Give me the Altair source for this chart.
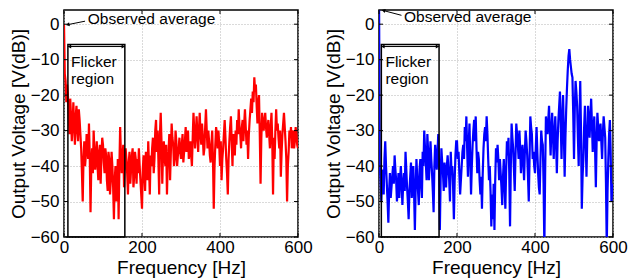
import altair as alt
import pandas as pd

# ---- data (2 Hz spacing) ----
freq_hz = list(range(0, 601, 2))

red_db = [
    0, -14, -16, -22, -17, -20, -25, -31, -21, -26,
    -33, -28, -22, -29, -34, -26, -23, -30, -33, -24,
    -27, -31, -35, -42, -50, -38, -33, -40, -37, -31,
    -34, -38, -28, -37, -53, -40, -35, -42, -30, -36,
    -41, -37, -33, -40, -44, -36, -34, -45, -37, -32,
    -34, -39, -42, -35, -37, -44, -47, -36, -38, -48,
    -44, -36, -40, -46, -55, -44, -40, -50, -47, -38,
    -55, -40, -29, -37, -42, -37, -34, -46, -40, -35,
    -38, -42, -48, -39, -36, -45, -41, -37, -35, -46,
    -43, -36, -38, -45, -38, -42, -35, -40, -44, -48,
    -52, -41, -37, -42, -47, -36, -39, -44, -33, -40,
    -48, -37, -40, -35, -32, -42, -38, -30, -27, -36,
    -30, -38, -48, -31, -25, -33, -45, -36, -33, -38,
    -40, -34, -48, -39, -36, -31, -44, -36, -28, -32,
    -34, -40, -38, -30, -33, -40, -37, -35, -32, -36,
    -38, -34, -31, -39, -36, -33, -29, -36, -33, -30,
    -38, -36, -33, -37, -40, -32, -25, -30, -35, -31,
    -26, -31, -36, -30, -25, -31, -34, -28, -32, -37,
    -35, -29, -24, -30, -35, -30, -33, -37, -39, -34,
    -30, -38, -52, -40, -34, -29, -31, -35, -30, -34,
    -40, -33, -44, -38, -35, -31, -27, -32, -38, -42,
    -48, -38, -33, -29, -26, -33, -40, -31, -34, -37,
    -30, -34, -27, -31, -24, -29, -31, -35, -29, -27,
    -33, -28, -24, -29, -34, -30, -38, -31, -27, -24,
    -21, -25, -19, -22, -15, -19, -17, -23, -28, -22,
    -20, -31, -45, -32, -25, -28, -30, -27, -25, -29,
    -32, -29, -27, -31, -35, -29, -25, -33, -48, -32,
    -38, -30, -24, -30, -28, -32, -35, -30, -43, -36,
    -31, -28, -25, -29, -33, -38, -50, -40, -36, -30,
    -32, -29, -35, -31, -30, -35, -33, -29, -31, -34,
    -35,
]

blue_db = [
    10, -40, -44, -50, -41, -46, -48, -38, -33, -40,
    -45, -50, -56, -47, -42, -49, -46, -43, -40, -45,
    -37, -41, -44, -50, -46, -42, -49, -44, -40, -45,
    -51, -45, -42, -47, -36, -41, -46, -50, -55, -47,
    -43, -39, -49, -45, -40, -48, -58, -46, -38, -43,
    -47, -51, -41, -38, -45, -49, -36, -40, -30, -35,
    -39, -44, -31, -36, -44, -39, -33, -38, -42, -47,
    -53, -40, -34, -38, -41, -36, -31, -40, -58, -44,
    -35, -39, -42, -47, -39, -43, -46, -40, -37, -41,
    -44, -50, -36, -42, -40, -46, -55, -44, -37, -33,
    -33, -38, -36, -42, -48, -44, -40, -36, -34, -38,
    -29, -33, -26, -35, -43, -34, -28, -38, -48, -40,
    -34, -30, -27, -33, -26, -35, -42, -36, -38, -44,
    -48, -43, -52, -42, -35, -31, -29, -33, -26, -31,
    -38, -44, -40, -47, -57, -48, -55, -45, -58, -44,
    -35, -39, -34, -38, -44, -38, -42, -46, -51, -43,
    -38, -45, -52, -41, -33, -37, -32, -42, -57, -40,
    -28, -32, -35, -41, -47, -37, -28, -31, -34, -38,
    -30, -35, -42, -37, -34, -39, -44, -36, -30, -33,
    -37, -43, -50, -38, -26, -29, -31, -38, -36, -40,
    -42, -35, -29, -36, -42, -46, -48, -38, -30, -33,
    -34, -45, -63, -42, -26, -29, -31, -27, -23, -30,
    -37, -30, -25, -31, -38, -31, -26, -33, -42, -33,
    -27, -23, -19, -28, -38, -27, -20, -31, -43, -32,
    -24, -18, -13, -9, -7, -10, -12, -14, -15, -25,
    -38, -24, -16, -19, -23, -32, -40, -27, -16, -30,
    -52, -43, -38, -29, -23, -33, -43, -32, -23, -27,
    -32, -26, -21, -28, -36, -30, -26, -35, -46, -33,
    -25, -29, -33, -30, -28, -33, -38, -31, -26, -29,
    -32, -45, -63, -47, -38, -31, -27, -36, -50, -46,
    -45,
]

x_ticks = [0, 200, 400, 600]
y_ticks = [-60, -50, -40, -30, -20, -10, 0]

# annotation anchors (data units)
flicker_left = [10, 6]
flicker_right = [156, 154]
flicker_top = -5.75
flicker_bottom = -60
flicker_text_f = [18, 16.5]
obs_text_f = [61, 64]
obs_text_v = [1.4, 1.9]
obs_tail = [(54, 0.85), (57.6, 2.5)]
obs_tip = [(11, -0.1), (12.9, 3.8)]
obs_angle = [258, 284]

W, H = 234, 227
FONT = "Liberation Sans"


def xenc(field="f"):
    return alt.X(f"{field}:Q",
                 scale=alt.Scale(domain=[0, 600], nice=False, zero=False),
                 axis=alt.Axis(values=x_ticks, title="Frequency [Hz]", format="d",
                               ticks=False, domain=False, grid=True,
                               labelPadding=2, titlePadding=3,
                               labelFlush=False))


def yenc(field="v"):
    return alt.Y(f"{field}:Q",
                 scale=alt.Scale(domain=[-60, 4], nice=False, zero=False),
                 axis=alt.Axis(values=y_ticks, title="Output Voltage [V(dB)]", format="d",
                               ticks=False, domain=False, grid=True,
                               labelPadding=5, titlePadding=2,
                               labelFlush=False))


def panel(i, vals, color):
    df = pd.DataFrame({"f": freq_hz, "v": vals})
    line = alt.Chart(df).mark_line(color=color, strokeWidth=2.2, clip=True).encode(
        x=xenc(), y=yenc())

    rect_df = pd.DataFrame({"f": [flicker_left[i]], "f2": [flicker_right[i]],
                            "v": [flicker_top], "v2": [flicker_bottom]})
    rect = alt.Chart(rect_df).mark_rect(fillOpacity=0, stroke="black", strokeWidth=1.5).encode(
        x=xenc(), x2="f2", y=yenc(), y2="v2")

    arr_df = pd.DataFrame({"f": [flicker_left[i]], "f2": [flicker_right[i]],
                           "v": [flicker_top - 0.55]})
    dbl = alt.Chart(arr_df).mark_rule(color="black", strokeWidth=1).encode(
        x=xenc(), x2="f2", y=yenc())
    heads_df = pd.DataFrame({"f": [flicker_left[i] + 4, flicker_right[i] - 4],
                             "v": [flicker_top - 0.55, flicker_top - 0.55],
                             "s": ["triangle-left", "triangle-right"]})
    heads = alt.Chart(heads_df).mark_point(filled=True, color="black", size=16, opacity=1).encode(
        x=xenc(), y=yenc(), shape=alt.Shape("s:N", scale=None))

    ftext_df = pd.DataFrame({"f": [flicker_text_f[i]] * 2, "v": [-12.2, -16.75],
                             "t": ["Flicker", "region"]})
    ftext = alt.Chart(ftext_df).mark_text(align="left", baseline="alphabetic",
                                          fontSize=15.5, font=FONT, color="black").encode(
        x=xenc(), y=yenc(), text="t:N")

    otext_df = pd.DataFrame({"f": [obs_text_f[i]], "v": [obs_text_v[i]], "t": ["Observed average"]})
    otext = alt.Chart(otext_df).mark_text(align="left", baseline="middle",
                                          fontSize=15.5, font=FONT, color="black").encode(
        x=xenc(), y=yenc(), text="t:N")

    oarr_df = pd.DataFrame({"f": [obs_tail[i][0]], "v": [obs_tail[i][1]],
                            "f2": [obs_tip[i][0]], "v2": [obs_tip[i][1]]})
    oarr = alt.Chart(oarr_df).mark_rule(color="black", strokeWidth=1).encode(
        x=xenc(), y=yenc(), x2="f2", y2="v2")
    ohead_df = pd.DataFrame({"f": [obs_tip[i][0]], "v": [obs_tip[i][1]]})
    ohead = alt.Chart(ohead_df).mark_point(shape="triangle", filled=True, color="black",
                                           size=18, opacity=1, angle=obs_angle[i]).encode(
        x=xenc(), y=yenc())

    xt = pd.DataFrame({"f": x_ticks})
    yt = pd.DataFrame({"v": y_ticks})
    tb = alt.Chart(xt).mark_rule(color="black", strokeWidth=1).encode(
        x=xenc(), y=alt.value(H), y2=alt.value(H - 4))
    tt = alt.Chart(xt).mark_rule(color="black", strokeWidth=1).encode(
        x=xenc(), y=alt.value(0), y2=alt.value(4))
    tl = alt.Chart(yt).mark_rule(color="black", strokeWidth=1).encode(
        y=yenc(), x=alt.value(0), x2=alt.value(4))
    tr = alt.Chart(yt).mark_rule(color="black", strokeWidth=1).encode(
        y=yenc(), x=alt.value(W), x2=alt.value(W - 4))

    return alt.layer(line, rect, dbl, heads, ftext, otext, oarr, ohead, tb, tt, tl, tr).properties(
        width=W, height=H)


chart = alt.hconcat(panel(0, red_db, "#ff0000"), panel(1, blue_db, "#0000ff"), spacing=10).properties(
    padding={"left": 0, "top": 0, "right": 0, "bottom": 0}
).configure_view(stroke="black", strokeWidth=1.5).configure_axis(
    labelFont=FONT, titleFont=FONT, labelFontSize=17, titleFontSize=19,
    labelColor="black", titleColor="black", titleFontWeight="normal",
    gridColor="#b4b4b4", gridDash=[1, 2], gridWidth=1
)

chart.save("out.html", embed_options={"renderer": "svg", "actions": False})
